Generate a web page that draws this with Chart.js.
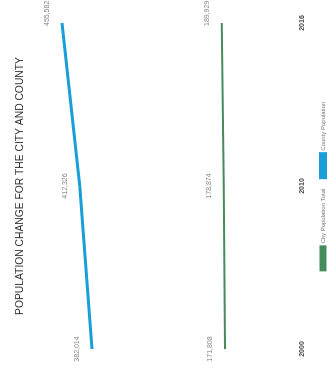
<!DOCTYPE html>
<html>
<head>
<meta charset="utf-8">
<script src="https://cdn.jsdelivr.net/npm/chart.js@4/dist/chart.umd.min.js"></script>
<style>
  html, body { margin: 0; padding: 0; background: #fff; overflow: hidden; }
  #wrap {
    position: absolute; left: 0; top: 0;
    width: 381px; height: 327px;
    transform-origin: 0 0;
    transform: translateY(381px) rotate(-90deg);
  }
</style>
</head>
<body>
<div id="wrap">
  <canvas id="chart" width="381" height="327"></canvas>
</div>
<script>
// data
var years = ['2000', '2010', '2016'];
var cityPop = [171808, 178874, 189929];
var countyPop = [382014, 412326, 455582];
var seriesNames = ['City Population Total', 'County Population'];
var chartTitle = 'POPULATION CHANGE FOR THE CITY AND COUNTY';

// little plugin to write the value over each point
var pointLabels = {
    id: 'pointLabels',
    afterDatasetsDraw: function (chart) {
        var ctx = chart.ctx;
        ctx.save();
        ctx.font = '7px "Liberation Sans", Arial, sans-serif';
        ctx.fillStyle = '#888888';
        ctx.textBaseline = 'middle';
        chart.data.datasets.forEach(function (ds, i) {
            var pts = chart.getDatasetMeta(i).data;
            pts.forEach(function (pt, j) {
                var last = (j == pts.length - 1);
                ctx.textAlign = last ? 'left' : 'center';
                ctx.fillText(ds.data[j].toLocaleString('en-US'), last ? pt.x - 3 : pt.x, pt.y - 15);
            });
        });
        ctx.restore();
    }
};

new Chart(document.getElementById('chart'), {
    type: 'line',
    data: {
        labels: years,
        datasets: [
            {
                label: seriesNames[0],
                data: cityPop,
                yAxisID: 'y2',
                borderColor: '#468c5b',
                backgroundColor: '#468c5b',
                borderWidth: 2,
                pointRadius: 0,
                tension: 0
            },
            {
                label: seriesNames[1],
                data: countyPop,
                yAxisID: 'y',
                borderColor: '#1a9ed8',
                backgroundColor: '#1a9ed8',
                borderWidth: 3,
                pointRadius: 0,
                tension: 0
            }
        ]
    },
    options: {
        responsive: false,
        animation: false,
        layout: { padding: { left: 32, right: 23, top: 0, bottom: -9 } },
        plugins: {
            title: {
                display: true,
                text: chartTitle,
                color: '#333333',
                font: { size: 10.3, family: '"Liberation Sans", Arial, sans-serif', weight: 'normal' },
                padding: { top: 14, bottom: 10 }
            },
            legend: {
                position: 'bottom',
                labels: {
                    boxWidth: 24,
                    boxHeight: 5,
                    padding: 11,
                    color: '#777777',
                    font: { size: 6, family: '"Liberation Sans", Arial, sans-serif' }
                }
            },
            tooltip: { enabled: false }
        },
        scales: {
            x: {
                grid: { display: false },
                border: { display: false },
                ticks: {
                    maxRotation: 0,
                    color: '#444444',
                    font: { size: 7, weight: 'bold', family: '"Liberation Sans", Arial, sans-serif' }
                }
            },
            // two hidden value axes, one per series
            y: { display: false, min: -95040, max: 518451 },
            y2: { display: false, min: -166150, max: 1207446 }
        }
    },
    plugins: [pointLabels]
});
</script>
</body>
</html>
